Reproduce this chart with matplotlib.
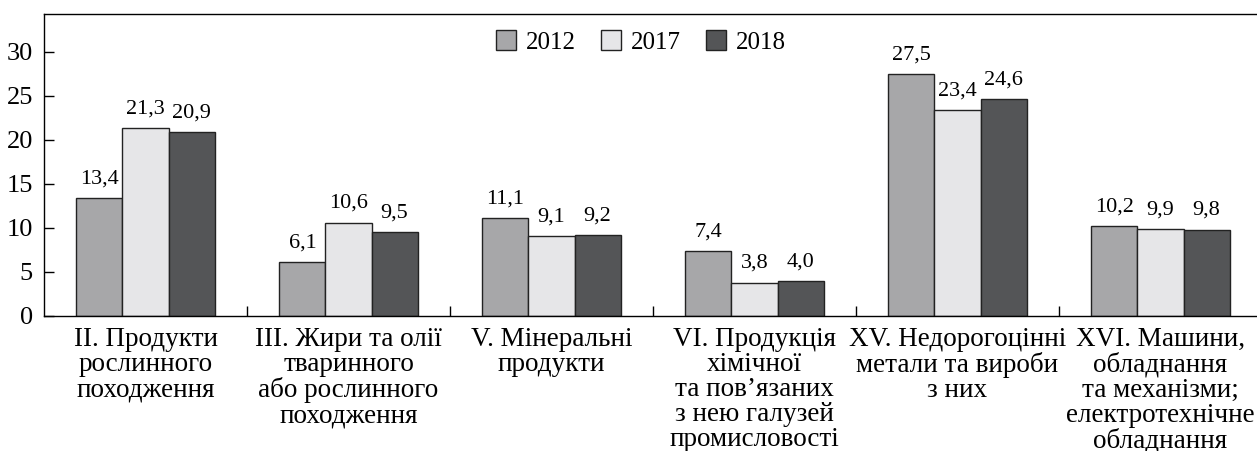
import numpy as np
import matplotlib.pyplot as plt
import matplotlib
from matplotlib.ticker import FixedLocator

matplotlib.rcParams.update({
    "font.family": ["Liberation Serif", "DejaVu Serif"],
    "font.size": 18,
})

# данні
categories = [
    "II. Продукти\nрослинного\nпоходження",
    "III. Жири та олії\nтваринного\nабо рослинного\nпоходження",
    "V. Мінеральні\nпродукти",
    "VI. Продукція\nхімічної\nта пов’язаних\nз нею галузей\nпромисловості",
    "XV. Недорогоцінні\nметали та вироби\nз них",
    "XVI. Машини,\nобладнання\nта механізми;\nелектротехнічне\nобладнання",
]
years = ["2012", "2017", "2018"]
v2012 = [13.4, 6.1, 11.1, 7.4, 27.5, 10.2]
v2017 = [21.3, 10.6, 9.1, 3.8, 23.4, 9.9]
v2018 = [20.9, 9.5, 9.2, 4.0, 24.6, 9.8]
colors = ["#a7a7a9", "#e6e6e8", "#545557"]

fig = plt.figure(figsize=(12.57, 4.51), dpi=100)
ax = fig.add_axes([44 / 1257, 135 / 451, 1218 / 1257, 302 / 451])

x = np.arange(len(categories))
w = 0.227
series = [v2012, v2017, v2018]
for i, (vals, col, lab) in enumerate(zip(series, colors, years)):
    pos = x + (i - 1) * w
    bars = ax.bar(pos, vals, width=w, color=col, edgecolor="#222222",
                  linewidth=1.0, label=lab)
    for b, v in zip(bars, vals):
        ax.annotate(f"{v:.1f}".replace(".", ","),
                    (b.get_x() + b.get_width() / 2, v),
                    xytext=(0, 7), textcoords="offset points",
                    ha="center", va="bottom", fontsize=16)

ax.set_xlim(-0.5, len(categories) - 0.5)
ax.set_ylim(0, 34.3)
ax.set_yticks([0, 5, 10, 15, 20, 25, 30])
ax.set_xticks(x)
ax.set_xticklabels(categories, fontsize=19.5, linespacing=1.0, va="top")
ax.tick_params(axis="x", which="major", length=0, pad=8)
ax.xaxis.set_minor_locator(FixedLocator(x[:-1] + 0.5))
ax.tick_params(axis="x", which="minor", direction="in", length=7, width=1)
ax.tick_params(axis="y", direction="in", length=7, width=1, labelsize=19, pad=8)

for s in ["left", "bottom", "top"]:
    ax.spines[s].set_linewidth(1.0)
ax.spines["right"].set_visible(False)

ax.legend(loc="center", bbox_to_anchor=(0.49, 0.907), ncol=3, frameon=False,
          fontsize=18, handlelength=0.8, handleheight=0.8, handletextpad=0.4,
          columnspacing=1.0)

plt.savefig("out.png", dpi=100)
